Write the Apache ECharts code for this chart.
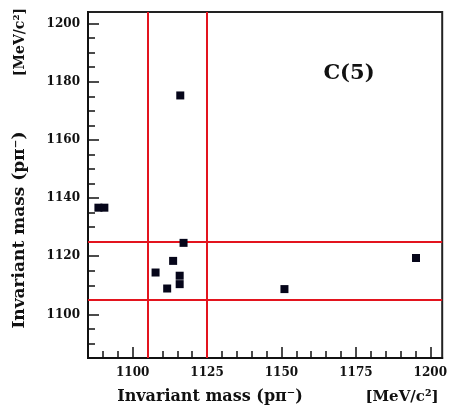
<!DOCTYPE html>
<html>
<head>
<meta charset="utf-8">
<script src="https://cdn.jsdelivr.net/npm/echarts@6/dist/echarts.min.js"></script>
<style>
html,body{margin:0;padding:0;background:#fff;}
#chart{width:450px;height:410px;}
</style>
</head>
<body>
<div id="chart"></div>
<script>
// Data
const massX = [1116.0, 1088.5, 1090.5, 1117.1, 1113.6, 1107.7, 1115.8, 1115.8, 1111.6, 1151.0, 1195.2];
const massY = [1175.3, 1136.7, 1136.7, 1124.6, 1118.4, 1114.4, 1113.3, 1110.4, 1108.9, 1108.7, 1119.4];
const cutLinesX = [1105, 1125];
const cutLinesY = [1105, 1125];
const xTickLabels = [1100, 1125, 1150, 1175, 1200];
const yTickLabels = [1100, 1120, 1140, 1160, 1180, 1200];
const axisMin = 1085, axisMax = 1204;
const minorStep = 5;

const minorTicks = [];
for (let v = axisMin; v <= axisMax; v += minorStep) minorTicks.push(v);

const points = massX.map((x, i) => [x, massY[i]]);

const FONT = 'DejaVu Serif';
const labelStyle = { fontFamily: FONT, fontWeight: 'bold', fontSize: 12, color: '#111' };

function makeAxis(isMajor, isX) {
  return {
    type: 'value',
    min: axisMin, max: axisMax,
    position: isX ? 'bottom' : 'left',
    gridIndex: 0,
    splitLine: { show: false },
    axisLine: { show: true, onZero: false, lineStyle: { color: '#111', width: 2 } },
    axisTick: {
      show: true, inside: true,
      length: isMajor ? 11 : 7,
      customValues: isMajor ? (isX ? xTickLabels : yTickLabels) : minorTicks,
      lineStyle: { color: '#111', width: 1.5 }
    },
    axisLabel: isMajor ? Object.assign({
      show: true,
      margin: isX ? 9 : 8,
      customValues: isX ? xTickLabels : yTickLabels,
      formatter: v => String(Math.round(v))
    }, labelStyle) : { show: false }
  };
}

const chart = echarts.init(document.getElementById('chart'), null, { renderer: 'canvas' });
const nameStyle = { fontFamily: FONT, fontWeight: 'bold', fontSize: 15, fill: '#111' };

chart.setOption({
  animation: false,
  backgroundColor: '#fff',
  grid: { left: 88, right: 6, top: 12, bottom: 52, show: true, borderColor: '#222', borderWidth: 2, backgroundColor: 'transparent' },
  xAxis: [makeAxis(true, true), makeAxis(false, true)],
  yAxis: [makeAxis(true, false), makeAxis(false, false)],
  series: [{
    type: 'scatter',
    xAxisIndex: 0, yAxisIndex: 0,
    data: points,
    symbol: 'rect',
    symbolSize: [8, 8],
    itemStyle: { color: '#06061a', opacity: 1 },
    z: 5,
    markLine: {
      silent: true,
      symbol: ['none', 'none'],
      label: { show: false },
      lineStyle: { color: '#e3141e', width: 2, type: 'solid' },
      data: cutLinesX.map(v => ({ xAxis: v })).concat(cutLinesY.map(v => ({ yAxis: v })))
    }
  }],
  graphic: [
    { type: 'text', x: 349, y: 74, style: { text: 'C(5)', fontFamily: FONT, fontWeight: 'bold', fontSize: 21, fill: '#111', align: 'center', verticalAlign: 'middle' } },
    { type: 'text', x: 210, y: 397, style: Object.assign({ text: 'Invariant mass (p\u03c0\u207b)', align: 'center', verticalAlign: 'middle' }, nameStyle, { fontSize: 16 }) },
    { type: 'text', x: 402, y: 397, style: Object.assign({ text: '[MeV/c\u00b2]', align: 'center', verticalAlign: 'middle' }, nameStyle) },
    { type: 'text', x: 20, y: 230, rotation: Math.PI / 2, style: Object.assign({ text: 'Invariant mass (p\u03c0\u207b)', align: 'center', verticalAlign: 'middle' }, nameStyle, { fontSize: 17 }) },
    { type: 'text', x: 20, y: 42, rotation: Math.PI / 2, style: Object.assign({ text: '[MeV/c\u00b2]', align: 'center', verticalAlign: 'middle' }, nameStyle, { fontSize: 14 }) }
  ]
});
</script>
</body>
</html>
